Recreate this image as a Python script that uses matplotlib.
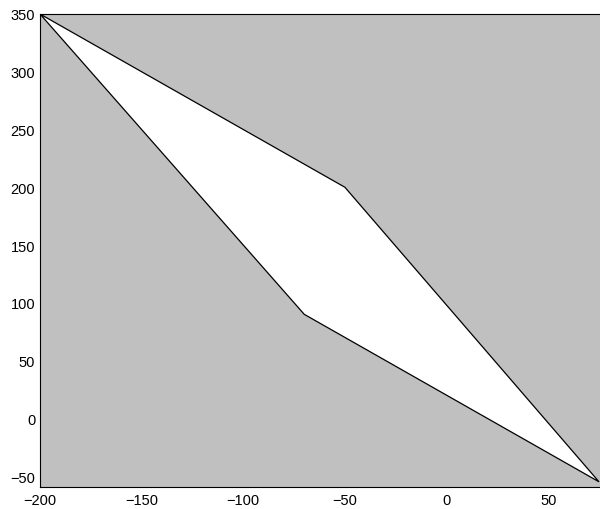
import matplotlib
matplotlib.use('Agg')
import matplotlib.pyplot as plt

# polygon corners
xs = [-200, -50, 75, -70]
ys = [350, 200, -55, 90]

plt.rcParams['font.family'] = ['Liberation Sans', 'DejaVu Sans']

fig = plt.figure(figsize=(6, 5.1), dpi=100)
ax = fig.add_axes([40 / 600, 22 / 510, 560 / 600, 473 / 510])
ax.set_facecolor('#c0c0c0')
ax.fill(xs, ys, facecolor='white', edgecolor='black', linewidth=0.9)

ax.set_xlim(-200, 75.5)
ax.set_ylim(-59.5, 350)
ax.set_xticks([-200, -150, -100, -50, 0, 50])
ax.set_yticks([-50, 0, 50, 100, 150, 200, 250, 300, 350])
ax.set_xticklabels(['\u2212200', '\u2212150', '\u2212100', '\u221250', '0', '50'])
ax.set_yticklabels(['\u221250', '0', '50', '100', '150', '200', '250', '300', '350'])
ax.tick_params(length=0, labelsize=10.5)
ax.tick_params(axis='y', pad=3.5)
ax.tick_params(axis='x', pad=4)
ax.spines['right'].set_visible(False)

fig.savefig('out.png', dpi=100)
